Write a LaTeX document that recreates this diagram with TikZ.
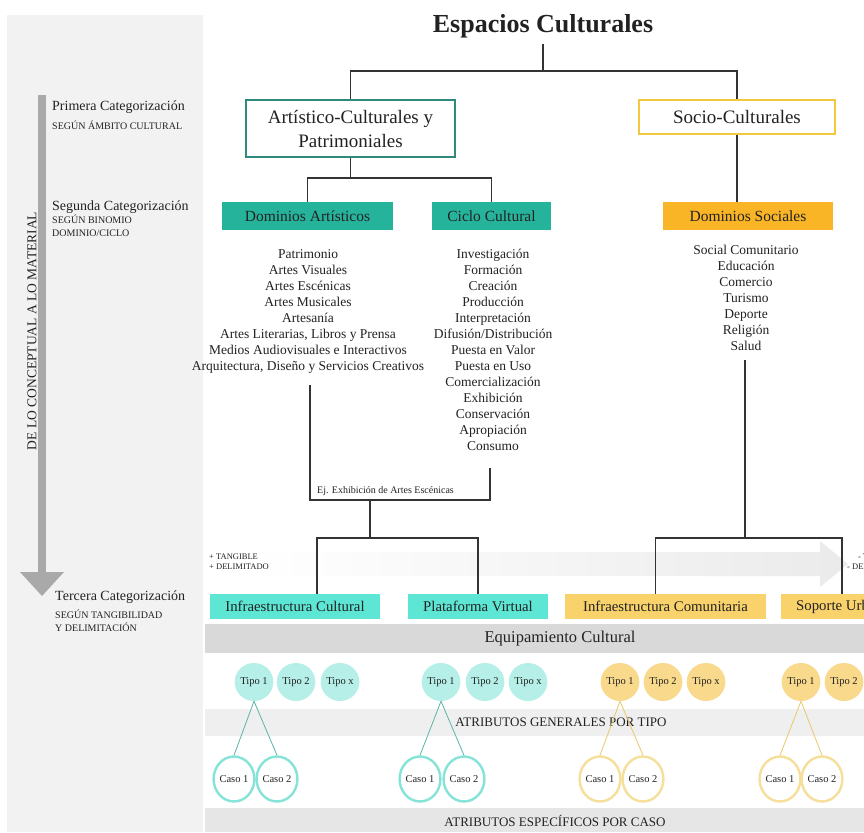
\documentclass[tikz,border=0pt]{standalone}
\usepackage{fontspec}
\setmainfont{Liberation Serif}
\usetikzlibrary{shapes.geometric}
\definecolor{panel}{HTML}{F2F2F2}
\definecolor{txt}{HTML}{222222}
\definecolor{linegray}{HTML}{333333}
\definecolor{tealdark}{HTML}{2F8A7D}
\definecolor{tealfill}{HTML}{26B39C}
\definecolor{yelborder}{HTML}{F3C73E}
\definecolor{orangefill}{HTML}{F9B526}
\definecolor{turq}{HTML}{5EE6D5}
\definecolor{yel3}{HTML}{F9D26C}
\definecolor{equipband}{HTML}{D9D9D9}
\definecolor{genband}{HTML}{EFEFEF}
\definecolor{espband}{HTML}{E6E6E6}
\definecolor{tipoteal}{HTML}{B5EFE7}
\definecolor{tipoyel}{HTML}{F9D98B}
\definecolor{casoteal}{HTML}{86E3D8}
\definecolor{casoyel}{HTML}{F5DF9A}
\definecolor{linkteal}{HTML}{5AB5A8}
\definecolor{linkyel}{HTML}{E9C969}
\definecolor{arrowgray}{HTML}{A9A9A9}
\tikzset{
  conn/.style={draw=linegray, line width=1.3pt},
  box1/.style={draw, line width=2.8pt, fill=white, inner sep=0pt, align=center, text=txt, font=\fontsize{19}{24}\selectfont},
  dombox/.style={inner sep=0pt, minimum height=28pt, text=txt, font=\fontsize{15.5}{18}\selectfont},
  listtext/.style={inner sep=0pt, align=center, text=txt, font=\fontsize{13.5}{16}\selectfont},
  thirdbox/.style={inner sep=0pt, minimum height=25pt, text=txt, font=\fontsize{14.8}{17}\selectfont},
  cattitle/.style={inner sep=0pt, align=left, text=txt, font=\fontsize{14}{15}\selectfont},
  catsub/.style={inner sep=0pt, align=left, text=txt, font=\fontsize{10}{12.5}\selectfont},
  tipo/.style={ellipse, inner sep=0pt, minimum width=36pt, minimum height=38pt, text=txt, font=\fontsize{10.5}{12}\selectfont},
  caso/.style={ellipse, inner sep=0pt, minimum width=40pt, minimum height=45pt, line width=2.4pt, fill=white, text=txt, font=\fontsize{10.5}{12}\selectfont},
  bandtext/.style={inner sep=0pt, text=txt, font=\fontsize{13}{15}\selectfont},
  smalltxt/.style={inner sep=0pt, text=txt, font=\fontsize{8.5}{10}\selectfont},
}
\begin{document}
\begin{tikzpicture}[x=1pt,y=-1pt]
\clip (0,0) rectangle (864,832);
\fill[white] (0,0) rectangle (864,832);
% left panel
\fill[panel] (7,15) rectangle (203,832);
% vertical arrow
\fill[arrowgray] (38,95) rectangle (46,573);
\fill[arrowgray] (20,572) -- (64,572) -- (42,596) -- cycle;
\node[rotate=90, inner sep=0pt, text=txt, font=\fontsize{13.5}{15}\selectfont] (dir) at (32,331) {DE LO CONCEPTUAL A LO MATERIAL};
% category labels
\node[cattitle, anchor=north west] (c1) at (52,101) {Primera Categorización};
\node[catsub, anchor=north west] (c1s) at (52,121) {SEGÚN ÁMBITO CULTURAL};
\node[cattitle, anchor=north west] (c2) at (52,201) {Segunda Categorización};
\node[catsub, anchor=north west] (c2s) at (52,215) {SEGÚN BINOMIO\\DOMINIO/CICLO};
\node[cattitle, anchor=north west] (c3) at (55,591) {Tercera Categorización};
\node[catsub, anchor=north west] (c3s) at (55,610) {SEGÚN TANGIBILIDAD\\Y DELIMITACIÓN};

% horizontal gray arrow (tangibility)
\shade[left color=white, right color=black!8] (250,552) -- (820,552) -- (820,541) -- (848,564) -- (820,587) -- (820,576) -- (250,576) -- cycle;
\node[smalltxt, anchor=west, align=left] (tplus) at (209,562) {+ TANGIBLE\\+ DELIMITADO};
\node[smalltxt, anchor=east, align=right] (tminus) at (905,562) {- TANGIBLE\\- DELIMITADO};

% title and first level
\node[inner sep=0pt, text=txt, font=\fontsize{26}{30}\bfseries] (title) at (543,26) {Espacios Culturales};
\node[box1, draw=tealdark, minimum width=209pt, minimum height=57pt] (art) at (350.5,128.5) {Artístico-Culturales y\\Patrimoniales};
\node[box1, draw=yelborder, minimum width=196pt, minimum height=34pt] (soc) at (737,117) {Socio-Culturales};

% second level
\node[dombox, fill=tealfill, minimum width=171pt] (da) at (307.5,216) {Dominios Artísticos};
\node[dombox, fill=tealfill, minimum width=119pt] (cc) at (491.5,216) {Ciclo Cultural};
\node[dombox, fill=orangefill, minimum width=170pt] (ds) at (748,216) {Dominios Sociales};

% lists
\node[listtext, anchor=north] (lda) at (308,249) {Patrimonio\\Artes Visuales\\Artes Escénicas\\Artes Musicales\\Artesanía\\Artes Literarias, Libros y Prensa\\Medios Audiovisuales e Interactivos\\Arquitectura, Diseño y Servicios Creativos};
\node[listtext, anchor=north] (lcc) at (493,249) {Investigación\\Formación\\Creación\\Producción\\Interpretación\\Difusión/Distribución\\Puesta en Valor\\Puesta en Uso\\Comercialización\\Exhibición\\Conservación\\Apropiación\\Consumo};
\node[listtext, anchor=north] (lds) at (746,245) {Social Comunitario\\Educación\\Comercio\\Turismo\\Deporte\\Religión\\Salud};

% third level
\node[thirdbox, fill=turq, minimum width=170pt] (ic) at (295,606.5) {Infraestructura Cultural};
\node[thirdbox, fill=turq, minimum width=140pt] (pv) at (478,606.5) {Plataforma Virtual};
\node[thirdbox, fill=yel3, minimum width=201pt] (icom) at (665.5,606.5) {Infraestructura Comunitaria};
\node[thirdbox, fill=yel3, anchor=west, inner xsep=15pt] (su) at (781,606.5) {Soporte Urbano};

% bands
\fill[equipband] (205,624) rectangle (864,653);
\node[bandtext, font=\fontsize{16.5}{18}\selectfont] (equip) at (560,638.5) {Equipamiento Cultural};
\fill[genband] (205,709) rectangle (864,736);
\node[bandtext] (gen) at (561,722.5) {ATRIBUTOS GENERALES POR TIPO};
\fill[espband] (205,808) rectangle (864,832);
\node[bandtext] (esp) at (555,820.5) {ATRIBUTOS ESPECÍFICOS POR CASO};

% connectors, tree
\coordinate (j0) at (543,71);
\draw[conn] (title.south) ++(0,6) -- (j0);
\draw[conn] (art.north) |- (j0) -| (soc.north);
\coordinate (j1) at (350.5,178);
\draw[conn] (art.south) -- (j1);
\draw[conn] (da.north) |- (j1) -| (cc.north);
\draw[conn] (soc.south) -- (soc.south |- ds.north);
% bracket
\coordinate (a1) at (310,385);
\coordinate (b1) at (310,500);
\coordinate (b2) at (490,500);
\coordinate (a2) at (490,468);
\draw[conn] (a1) -- (b1) -- (b2) -- (a2);
\node[inner sep=0pt, anchor=south west, text=txt, font=\fontsize{10}{12}\selectfont] (ej) at (317,496) {Ej. Exhibición de Artes Escénicas};
\coordinate (b3) at (370,500);
\coordinate (j2) at (370,538);
\draw[conn] (b3) -- (j2);
\draw[conn] ([xshift=22pt]ic.north) |- (j2) -| (pv.north);
\coordinate (a3) at (745,360);
\coordinate (j3) at (745,538);
\draw[conn] (a3) -- (j3);
\draw[conn] ([xshift=-10pt]icom.north) |- (j3) -| ([xshift=61pt]su.north west);

% tipo circles
\node[tipo, fill=tipoteal] (t11) at (254,682) {Tipo 1};
\node[tipo, fill=tipoteal] (t12) at (296,682) {Tipo 2};
\node[tipo, fill=tipoteal] (t1x) at (340,682) {Tipo x};
\node[tipo, fill=tipoteal] (t21) at (441,682) {Tipo 1};
\node[tipo, fill=tipoteal] (t22) at (485,682) {Tipo 2};
\node[tipo, fill=tipoteal] (t2x) at (528,682) {Tipo x};
\node[tipo, fill=tipoyel] (t31) at (620,682) {Tipo 1};
\node[tipo, fill=tipoyel] (t32) at (663,682) {Tipo 2};
\node[tipo, fill=tipoyel] (t3x) at (706,682) {Tipo x};
\node[tipo, fill=tipoyel] (t41) at (801,682) {Tipo 1};
\node[tipo, fill=tipoyel] (t42) at (844,682) {Tipo 2};

% caso circles
\node[caso, draw=casoteal] (k11) at (234,779) {Caso 1};
\node[caso, draw=casoteal] (k12) at (277,779) {Caso 2};
\node[caso, draw=casoteal] (k21) at (420,779) {Caso 1};
\node[caso, draw=casoteal] (k22) at (464,779) {Caso 2};
\node[caso, draw=casoyel] (k31) at (600,779) {Caso 1};
\node[caso, draw=casoyel] (k32) at (643,779) {Caso 2};
\node[caso, draw=casoyel] (k41) at (780,779) {Caso 1};
\node[caso, draw=casoyel] (k42) at (822,779) {Caso 2};

% tipo-caso links
\draw[linkteal, line width=0.8pt] (k11.north) -- (t11.south) -- (k12.north);
\draw[linkteal, line width=0.8pt] (k21.north) -- (t21.south) -- (k22.north);
\draw[linkyel, line width=0.8pt] (k31.north) -- (t31.south) -- (k32.north);
\draw[linkyel, line width=0.8pt] (k41.north) -- (t41.south) -- (k42.north);
\end{tikzpicture}
\end{document}
